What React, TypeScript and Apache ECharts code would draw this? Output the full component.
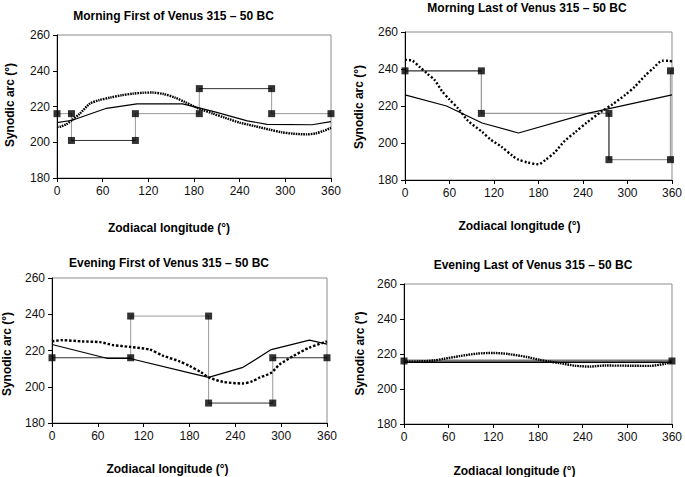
import React, { useEffect, useRef } from "react";
import * as echarts from "echarts";

const FONT = "'Liberation Sans', Arial, Helvetica, sans-serif";

const titles = [
  "Morning First of Venus 315 – 50 BC",
  "Morning Last of Venus 315 – 50 BC",
  "Evening First of Venus 315 – 50 BC",
  "Evening Last of Venus 315 – 50 BC",
];
const xTitle = "Zodiacal longitude (°)";
const yTitle = "Synodic arc (°)";
const xTicks = [0, 60, 120, 180, 240, 300, 360];
const yTicks = [180, 200, 220, 240, 260];

// Step (scheme) vertices
const mfStep = [[0, 216], [19, 216], [19, 201], [103, 201], [103, 216], [187, 216], [187, 230], [282, 230], [282, 216], [360, 216]];
const mlStep = [[0, 239], [103, 239], [103, 216], [275, 216], [275, 191], [358, 191], [358, 239]];
const efStep = [[0, 216], [103, 216], [103, 239], [205, 239], [205, 191], [289, 191], [289, 216], [360, 216]];
const elStep = [[0, 216], [360, 216]];

// Solid model curves
const mfSolid = [[0, 211], [20, 212.3], [65, 219], [105, 221.5], [165, 221.5], [205, 217.3], [250, 212], [276, 210], [335, 209.8], [360, 211.5]];
const mlSolid = [[0, 226], [56, 220], [104, 210.8], [153, 205.4], [246, 216], [360, 226]];
const efSolid = [[0, 223.3], [73, 215.6], [102, 215.6], [180, 207.7], [205, 205.2], [250, 210.7], [287, 220.5], [337, 225.7], [360, 223.5]];
const elSolid = [[0, 215.2], [360, 215.2]];

// Dotted observed curves
const mfDots = [[0, 208.5], [5, 208.8], [12, 210], [20, 212.5], [30, 216], [43, 221.5], [55, 223.5], [70, 225], [85, 226.3], [100, 227.2], [113, 227.7], [125, 227.8], [140, 227], [155, 225], [168, 222.5], [180, 220], [190, 218.3], [205, 216], [220, 213.8], [240, 211], [260, 209], [280, 207], [295, 205.6], [310, 204.8], [328, 204.4], [340, 205], [350, 206.3], [360, 208]];
const mlDots = [[0, 245], [10, 244.5], [20, 241], [30, 237.5], [40, 234], [50, 228], [60, 223.5], [72, 218.5], [85, 212], [104, 206], [115, 202], [130, 198], [145, 193], [153, 191], [165, 189.5], [180, 188.5], [190, 191], [202, 195], [215, 201], [230, 206], [245, 211], [265, 217], [280, 221], [297, 226], [310, 230.5], [324, 236.5], [335, 240.5], [347, 244.5], [355, 244.5], [360, 244]];
const efDots = [[0, 225], [12, 225.7], [40, 225], [63, 224.6], [80, 223], [102, 222], [128, 220.5], [145, 217.2], [167, 214], [180, 211.5], [195, 208], [205, 205.2], [224, 202.7], [250, 201.8], [262, 203], [272, 205.1], [287, 207.7], [298, 212.3], [316, 217], [337, 221.6], [360, 225]];
const elDots = [[0, 215.5], [20, 215.7], [40, 216.3], [54, 217.3], [75, 218.8], [98, 220.2], [120, 220.6], [140, 220], [165, 218.3], [182, 216.7], [195, 215.7], [209, 214.8], [230, 213.3], [249, 212.8], [270, 213.4], [306, 213.3], [330, 213.2], [351, 214.4], [360, 215.7]];

const DARK = "#333";
const GRAY = "#9a9a9a";

const panels = [
  {
    step: mfStep, solid: mfSolid, dots: mfDots,
    segColors: [GRAY, GRAY, DARK, GRAY, GRAY, GRAY, DARK, GRAY, GRAY], segWidth: 1,
    grid: { left: 57, top: 35, width: 274, height: 143 },
    title: [173.5, 16], xt: [169, 227.5], yt: [10, 105], dash: [1.6, 0.9],
  },
  {
    step: mlStep, solid: mlSolid, dots: mlDots,
    segColors: [DARK, GRAY, GRAY, DARK, GRAY, GRAY], segWidth: 1.3,
    grid: { left: 405, top: 32, width: 267, height: 148 },
    title: [527, 8], xt: [519.5, 226], yt: [359, 107], dash: [2, 2],
  },
  {
    step: efStep, solid: efSolid, dots: efDots,
    segColors: [DARK, GRAY, GRAY, GRAY, DARK, GRAY, DARK], segWidth: 1,
    grid: { left: 52, top: 278, width: 275, height: 145 },
    title: [169, 262.5], xt: [167.5, 469], yt: [7, 354], dash: [2.5, 1.8],
  },
  {
    step: elStep, solid: elSolid, dots: elDots,
    segColors: ["#7a7a7a"], segWidth: 3,
    grid: { left: 404, top: 284, width: 271, height: 140 },
    title: [533, 265], xt: [514.5, 470.5], yt: [360, 353.5], dash: [1.6, 0.9],
  },
];

function buildOption() {
  const grid: any[] = [];
  const xAxis: any[] = [];
  const yAxis: any[] = [];
  const series: any[] = [];
  const graphic: any[] = [];

  panels.forEach((p, i) => {
    grid.push({ ...p.grid, show: true, borderColor: "#8c8c8c", borderWidth: 1, backgroundColor: "#fff" });
    const axisCommon = {
      gridIndex: i,
      type: "value",
      axisLine: { show: true, onZero: false, lineStyle: { color: "#000", width: 1 } },
      axisTick: { show: true, length: 4, lineStyle: { color: "#000" } },
      axisLabel: { color: "#111", fontSize: 12, margin: 7, fontFamily: FONT },
      splitLine: { show: false },
    };
    xAxis.push({ ...axisCommon, min: xTicks[0], max: xTicks[xTicks.length - 1], interval: 60 });
    yAxis.push({ ...axisCommon, min: yTicks[0], max: yTicks[yTicks.length - 1], interval: 20 });

    for (let k = 0; k < p.step.length - 1; k++) {
      series.push({
        type: "line", xAxisIndex: i, yAxisIndex: i,
        data: [p.step[k], p.step[k + 1]],
        symbol: "none", silent: true, z: 2,
        lineStyle: { color: p.segColors[k] || GRAY, width: p.segWidth },
      });
    }
    series.push({
      type: "line", xAxisIndex: i, yAxisIndex: i, data: p.solid,
      symbol: "none", z: 3, lineStyle: { color: "#000", width: 1.2 },
    });
    series.push({
      type: "line", xAxisIndex: i, yAxisIndex: i, data: p.dots,
      symbol: "none", smooth: 0.25, z: 4,
      lineStyle: { color: "#000", width: 2.4, type: p.dash },
    });
    series.push({
      type: "scatter", xAxisIndex: i, yAxisIndex: i, data: p.step,
      symbol: "rect", symbolSize: 7, z: 5, itemStyle: { color: "#000" },
    });

    const bold = { fontFamily: FONT, fontWeight: "bold", fontSize: 12, fill: "#000", textAlign: "center", textVerticalAlign: "middle" };
    graphic.push({ type: "text", x: p.title[0], y: p.title[1], style: { ...bold, text: titles[i] } });
    graphic.push({ type: "text", x: p.xt[0], y: p.xt[1], style: { ...bold, text: xTitle } });
    graphic.push({ type: "text", x: p.yt[0], y: p.yt[1], rotation: Math.PI / 2, style: { ...bold, text: yTitle } });
  });

  return { animation: false, backgroundColor: "#fff", grid, xAxis, yAxis, series, graphic };
}

export default function App() {
  const ref = useRef<HTMLDivElement>(null);
  useEffect(() => {
    if (!ref.current) return;
    const chart = echarts.init(ref.current, undefined, { renderer: "svg" });
    chart.setOption(buildOption() as any);
    return () => chart.dispose();
  }, []);
  return <div ref={ref} style={{ position: "fixed", left: 0, top: 0, width: 685, height: 477, background: "#fff" }} />;
}
